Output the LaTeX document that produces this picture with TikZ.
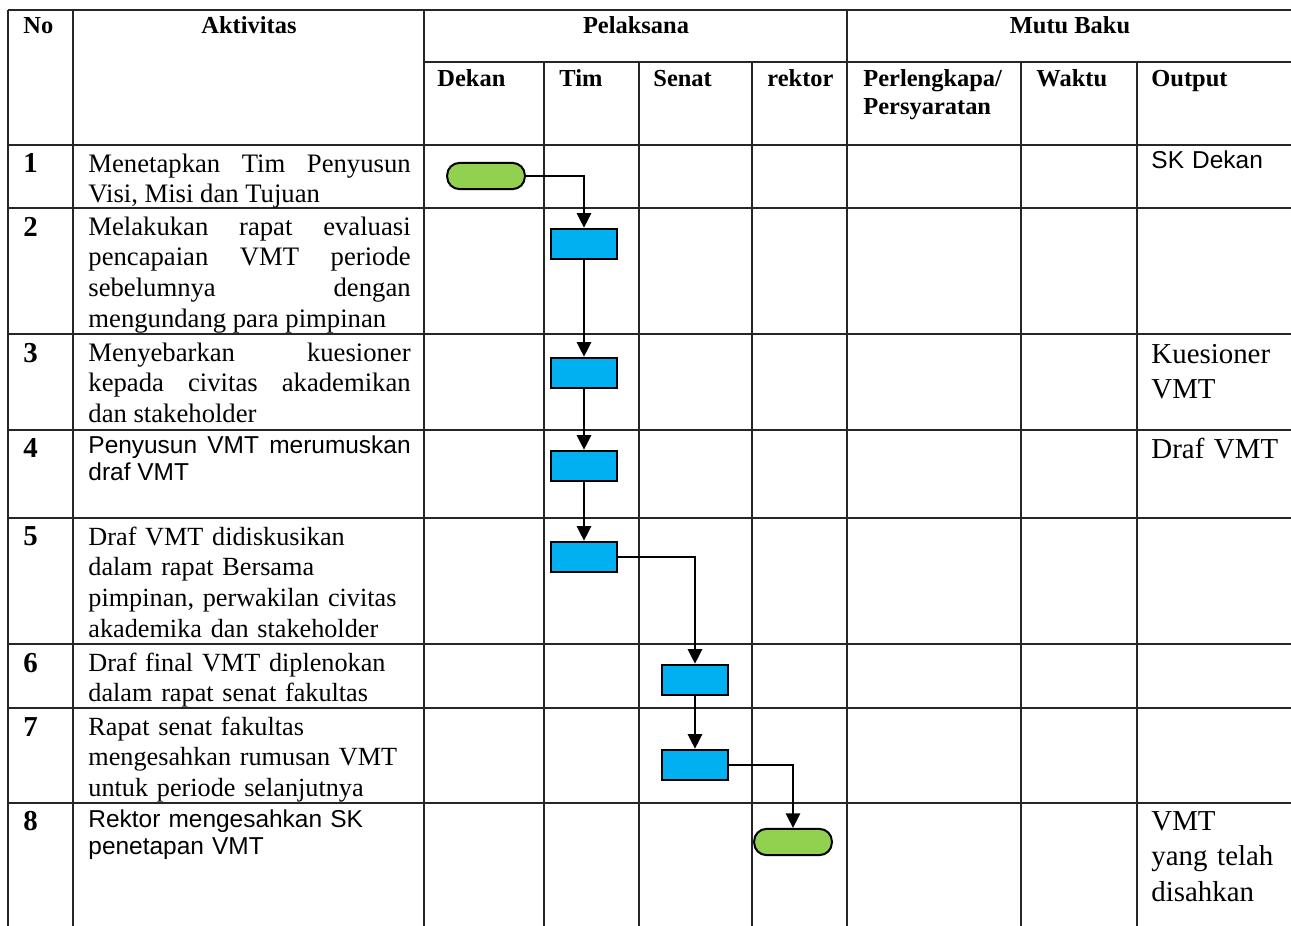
\documentclass[tikz,border=0pt]{standalone}
\usepackage{fontspec}
\setmainfont{Liberation Serif}
\newfontfamily\arialfont{Liberation Sans}
\usepackage{xcolor}
\usetikzlibrary{arrows.meta}
\definecolor{termgreen}{HTML}{92D050}
\definecolor{procblue}{HTML}{00B0F0}
\tikzset{
  tabline/.style={line width=0.55pt,black!85},
  hd/.style={inner sep=0pt,font=\bfseries\fontsize{11}{13}\selectfont},
  num/.style={inner sep=0pt,anchor=base west,font=\bfseries\fontsize{13}{15}\selectfont},
  act/.style={inner sep=0pt,anchor=base west,text width=145pt,align=justify,font=\fontsize{12}{13.8}\selectfont},
  actl/.style={act,align=left,font=\fontsize{11.8}{13.8}\selectfont},
  acts/.style={act,font=\arialfont\fontsize{11}{12.3}\selectfont},
  outp/.style={inner sep=0pt,anchor=base west,text width=62pt,align=left,font=\fontsize{13}{16}\selectfont},
  term/.style={draw,line width=0.9pt,fill=termgreen,rounded corners=5.6pt,minimum width=35pt,minimum height=11.8pt,inner sep=0pt},
  proc/.style={draw,line width=0.9pt,fill=procblue,minimum width=30pt,minimum height=13.8pt,inner sep=0pt},
  flow/.style={line width=0.6pt,-{Triangle[length=6.5pt,width=6.5pt]}}
}
\begin{document}
\begin{tikzpicture}[x=0.45pt,y=-0.45pt]
\useasboundingbox (0,0) rectangle (1291,926);
% table
\draw[tabline] (8,10) -- (1291,10);
\draw[tabline] (424,62) -- (1291,62);
\foreach \y in {145,208,334,430,518,644,708,803} \draw[tabline] (8,\y) -- (1291,\y);
\foreach \x in {8,73,424,847} \draw[tabline] (\x,10) -- (\x,926);
\foreach \x in {544,639,752,1021,1137} \draw[tabline] (\x,62) -- (\x,926);
% header
\node[hd,anchor=base west] (hno) at (23,33) {No};
\node[hd,anchor=base] (hakt) at (249,33) {Aktivitas};
\node[hd,anchor=base] (hpel) at (636,33) {Pelaksana};
\node[hd,anchor=base] (hmutu) at (1070,33) {Mutu Baku};
\node[hd,anchor=base west] (hdekan) at (437,86) {Dekan};
\node[hd,anchor=base west] (htim) at (559,86) {Tim};
\node[hd,anchor=base west] (hsenat) at (653,86) {Senat};
\node[hd,anchor=base west] (hrektor) at (767,86) {rektor};
\node[hd,anchor=base west,text width=70pt,align=left] (hperl) at (863,86) {Perlengkapa/\\Persyaratan};
\node[hd,anchor=base west] (hwaktu) at (1036,86) {Waktu};
\node[hd,anchor=base west] (houtput) at (1151,86) {Output};
% rows
\node[num] (n1) at (23,172) {1};
\node[num] (n2) at (23,236) {2};
\node[num] (n3) at (23,362) {3};
\node[num] (n4) at (23,457) {4};
\node[num] (n5) at (23,545) {5};
\node[num] (n6) at (23,672) {6};
\node[num] (n7) at (23,736) {7};
\node[num] (n8) at (23,830) {8};
\node[act] (a1) at (88,172) {Menetapkan Tim Penyusun\linebreak Visi, Misi dan Tujuan};
\node[act] (a2) at (88,235) {Melakukan rapat evaluasi\linebreak pencapaian VMT periode\linebreak sebelumnya dengan\linebreak mengundang para pimpinan};
\node[act] (a3) at (88,361) {Menyebarkan kuesioner\linebreak kepada civitas akademikan\linebreak dan stakeholder};
\node[acts] (a4) at (88,453) {Penyusun VMT merumuskan\linebreak draf VMT};
\node[actl] (a5) at (88,545) {Draf VMT didiskusikan\\dalam rapat Bersama\\pimpinan, perwakilan civitas\\akademika dan stakeholder};
\node[actl] (a6) at (88,671) {Draf final VMT diplenokan\\dalam rapat senat fakultas};
\node[actl] (a7) at (88,735) {Rapat senat fakultas\\mengesahkan rumusan VMT\\untuk periode selanjutnya};
\node[acts,align=left] (a8) at (88,827) {Rektor mengesahkan SK\\penetapan VMT};
% output
\node[outp,font=\arialfont\fontsize{11}{12.3}\selectfont] (o1) at (1151,168) {SK Dekan};
\node[outp] (o3) at (1151,363) {Kuesioner\\VMT};
\node[outp] (o4) at (1151,458) {Draf VMT};
\node[outp] (o8) at (1151,830) {VMT\\yang telah\\disahkan};
% flow
\node[term] (start) at (486,176) {};
\node[proc] (p2) at (584,244) {};
\node[proc] (p3) at (584,373) {};
\node[proc] (p4) at (584,466) {};
\node[proc] (p5) at (584,557) {};
\node[proc] (p6) at (695,680) {};
\node[proc] (p7) at (695,765) {};
\node[term] (stop) at (793,842) {};
\draw[flow] (start.east) -| (p2.north);
\draw[flow] (p2) -- (p3);
\draw[flow] (p3) -- (p4);
\draw[flow] (p4) -- (p5);
\draw[flow] (p5.east) -| (p6.north);
\draw[flow] (p6) -- (p7);
\draw[flow] (p7.east) -| (stop.north);
\end{tikzpicture}
\end{document}
